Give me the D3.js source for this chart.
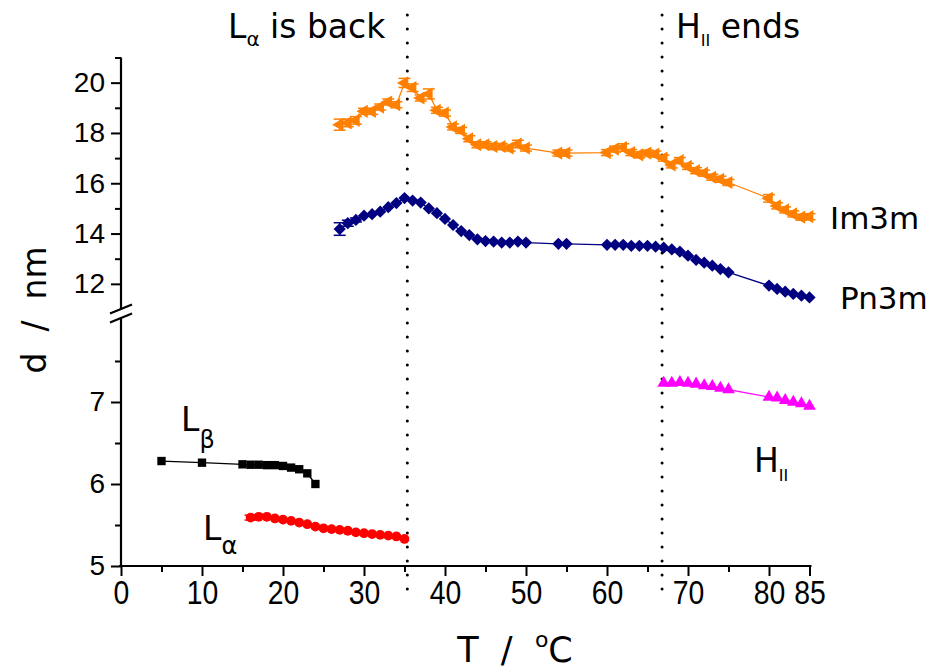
<!DOCTYPE html>
<html><head><meta charset="utf-8">
<script src="https://cdn.jsdelivr.net/npm/d3@7"></script>
<style>
html,body{margin:0;padding:0;background:#fff;}
svg{display:block;font-family:"DejaVu Sans",sans-serif;}
</style></head>
<body><svg id="c" width="935" height="671"></svg>
<script>
// ---- data ----
const tLb = [5,10,15,16,17,18,19,20,21,22,23,24];
const dLb = [6.28,6.26,6.24,6.235,6.235,6.23,6.23,6.22,6.20,6.18,6.13,6.00];

const tLa = [16,17,18,19,20,21,22,23,24,25,26,27,28,29,30,31,32,33,34,35];
const dLa = [5.59,5.60,5.60,5.58,5.565,5.55,5.53,5.51,5.48,5.46,5.45,5.44,5.43,5.41,5.40,5.39,5.38,5.37,5.36,5.33];
const eLa = [0.03,0.02,0,0,0,0,0,0,0,0,0,0,0,0,0,0,0,0,0,0];

const tPn = [27,28,29,30,31,32,33,34,35,36,37,38,39,40,41,42,43,44,45,46,47,48,49,50,54,55,
             60,61,62,63,64,65,66,67,68,69,70,71,72,73,74,75,80,81,82,83,84,85];
const dPn = [14.18,14.41,14.54,14.71,14.77,14.87,15.05,15.21,15.41,15.31,15.23,15.00,14.81,14.58,14.34,14.10,13.94,13.77,13.70,13.68,13.64,13.64,13.68,13.64,13.59,13.59,
             13.55,13.55,13.55,13.51,13.51,13.51,13.48,13.44,13.37,13.28,13.12,12.95,12.84,12.72,12.59,12.46,11.93,11.80,11.69,11.60,11.53,11.46];
const ePn = [0.25,0.12,0.08,0,0,0,0,0,0,0,0,0,0,0,0,0,0,0,0,0,0,0,0,0,0,0,
             0,0,0,0,0,0,0,0,0,0,0,0,0,0,0,0,0,0,0,0,0,0];

const tIm = [27,28,29,30,31,32,33,34,35,36,37,38,39,40,41,42,43,44,45,46,47,48,49,50,54,55,
             60,61,62,63,64,65,66,67,68,69,70,71,72,73,74,75,80,81,82,83,84,85];
const dIm = [18.33,18.40,18.50,18.86,18.86,19.03,19.23,19.12,19.99,19.80,19.39,19.55,18.90,18.79,18.24,18.10,17.77,17.53,17.53,17.46,17.46,17.40,17.56,17.40,17.20,17.20,
             17.22,17.36,17.42,17.22,17.13,17.20,17.16,17.00,16.73,16.90,16.67,16.50,16.40,16.24,16.16,16.03,15.40,15.10,14.94,14.78,14.65,14.67];
const eIm = [0.22,0.15,0.15,0.12,0.12,0.12,0.12,0.12,0.18,0.15,0.12,0.2,0.12,0.12,0.12,0.12,0.12,0.12,0.12,0.12,0.12,0.12,0.15,0.12,0.12,0.12,
             0.12,0.12,0.15,0.12,0.12,0.12,0.12,0.12,0.12,0.12,0.12,0.12,0.12,0.12,0.12,0.12,0.15,0.12,0.12,0.12,0.12,0.12];

const tH = [67,68,69,70,71,72,73,74,75,80,81,82,83,84,85];
const dH = [7.23,7.23,7.24,7.23,7.22,7.20,7.19,7.17,7.15,7.06,7.05,7.02,7.00,6.98,6.95];

const xMajor = [0,10,20,30,40,50,60,70,80,85];
const xMinor = [5,15,25,35,45,55,65,75];
const yUpMajor = [12,14,16,18,20];
const yUpMinor = [13,15,17,19,21];
const yLoMajor = [5,6,7];
const yLoMinor = [5.5,6.5,7.5];
const vLines = [35.35, 66.8];

// ---- scales ----
const svg = d3.select("#c");
const x = d3.scaleLinear().domain([0,85]).range([121,809.5]);
const yUp = d3.scaleLinear().domain([11,21]).range([309,57.5]);
const yLo = d3.scaleLinear().domain([5,8]).range([566,320]);

// ---- axes ----
function styleAxis(fs){
  return g=>{
    g.select(".domain").remove();
    g.selectAll("line").attr("stroke","#000").attr("stroke-width",2);
    g.selectAll("text").attr("font-size",fs).attr("fill","#000");
  };
}
// x axis
const gx = svg.append("g").attr("transform","translate(0,566)")
  .call(d3.axisBottom(x).tickValues(xMajor).tickSize(10).tickPadding(5).tickFormat(d3.format("d")))
  .call(styleAxis(33));
gx.selectAll("text").attr("transform","scale(0.86,1)");
svg.append("g").attr("transform","translate(0,566)")
  .call(d3.axisBottom(x).tickValues(xMinor).tickSize(6).tickFormat(""))
  .call(styleAxis(27));
svg.append("line").attr("x1",x(0)-2).attr("x2",x(85)+2).attr("y1",566).attr("y2",566)
  .attr("stroke","#000").attr("stroke-width",2.2);

// y upper
svg.append("g").attr("transform","translate(121,0)")
  .call(d3.axisLeft(yUp).tickValues(yUpMajor).tickSize(10).tickPadding(6).tickFormat(d3.format("d")))
  .call(styleAxis(28));
svg.append("g").attr("transform","translate(121,0)")
  .call(d3.axisLeft(yUp).tickValues(yUpMinor).tickSize(6).tickFormat(""))
  .call(styleAxis(28));
// y lower
svg.append("g").attr("transform","translate(121,0)")
  .call(d3.axisLeft(yLo).tickValues(yLoMajor).tickSize(10).tickPadding(6).tickFormat(d3.format("d")))
  .call(styleAxis(28));
svg.append("g").attr("transform","translate(121,0)")
  .call(d3.axisLeft(yLo).tickValues(yLoMinor).tickSize(6).tickFormat(""))
  .call(styleAxis(28));
// y axis lines
svg.append("line").attr("x1",121).attr("x2",121).attr("y1",yUp(21)).attr("y2",yUp(11)+1)
  .attr("stroke","#000").attr("stroke-width",2.2);
svg.append("line").attr("x1",121).attr("x2",121).attr("y1",yLo(8)-2).attr("y2",567)
  .attr("stroke","#000").attr("stroke-width",2.2);
// break marks
[0,9].forEach(o=>{
  svg.append("line").attr("x1",110).attr("y1",313.5+o).attr("x2",132).attr("y2",304.5+o)
    .attr("stroke","#000").attr("stroke-width",2.2);
});

// ---- dotted vertical lines ----
vLines.forEach(v=>{
  svg.append("line").attr("x1",x(v)).attr("x2",x(v)).attr("y1",15).attr("y2",596)
    .attr("stroke","#000").attr("stroke-width",3).attr("stroke-linecap","round")
    .attr("stroke-dasharray","0.1,13.9");
});

// ---- series ----
function series(ts, ds, ys, color, shape, size, errs){
  const pts = ts.map((t,i)=>({t, d:ds[i], e: errs? errs[i]:0}));
  svg.append("path").datum(pts)
    .attr("d", d3.line().x(p=>x(p.t)).y(p=>ys(p.d)))
    .attr("fill","none").attr("stroke",color).attr("stroke-width",1.3);
  const g = svg.append("g");
  pts.forEach(p=>{
    if(p.e>0){
      const cx=x(p.t), y1=ys(p.d+p.e), y2=ys(p.d-p.e);
      g.append("line").attr("x1",cx).attr("x2",cx).attr("y1",y1).attr("y2",y2).attr("stroke",color).attr("stroke-width",1.5);
      g.append("line").attr("x1",cx-6).attr("x2",cx+6).attr("y1",y1).attr("y2",y1).attr("stroke",color).attr("stroke-width",1.5);
      g.append("line").attr("x1",cx-6).attr("x2",cx+6).attr("y1",y2).attr("y2",y2).attr("stroke",color).attr("stroke-width",1.5);
    }
  });
  g.selectAll("path.m").data(pts).join("path")
    .attr("d", d3.symbol().type(shape.type).size(size))
    .attr("transform", p=>`translate(${x(p.t)},${ys(p.d)}) rotate(${shape.rot||0})`)
    .attr("fill",color);
}
series(tLb,dLb,yLo,"#000",{type:d3.symbolSquare},70,null);
series(tLa,dLa,yLo,"#ff0000",{type:d3.symbolCircle},75,eLa);
series(tH,dH,yLo,"#ff00ff",{type:d3.symbolTriangle},70,null);
series(tPn,dPn,yUp,"#000080",{type:d3.symbolSquare,rot:45},75,ePn);
series(tIm,dIm,yUp,"#ff8000",{type:d3.symbolTriangle,rot:-90},75,eIm);

// ---- labels ----
function label(xp, yp, main, sub, rest, fs, subfs, dy){
  const t = svg.append("text").attr("x",xp).attr("y",yp).attr("font-size",fs).attr("fill","#000");
  t.append("tspan").text(main);
  if(sub){ t.append("tspan").attr("font-size",subfs).attr("dy",dy).text(sub); }
  if(rest){ t.append("tspan").attr("dy",-dy).text(rest); }
  return t;
}
label(228,38,"L","α"," is back",33,20,8);
label(676,38,"H","II"," ends",33,16,8);
label(181,431,"L","β",null,33,24,17);
label(203,540,"L","α",null,33,24,14);
label(754,472,"H","II",null,33,16,9);
svg.append("text").attr("x",830).attr("y",229).attr("font-size",31).text("Im3m");
svg.append("text").attr("x",840).attr("y",309).attr("font-size",31).text("Pn3m");

// axis titles
svg.append("text").attr("transform","translate(46,310) rotate(-90)").attr("text-anchor","middle")
  .attr("font-size",33).attr("xml:space","preserve").text("d  /  nm");
const xt = svg.append("text").attr("x",515).attr("y",662).attr("text-anchor","middle").attr("font-size",35)
  .attr("xml:space","preserve");
xt.append("tspan").text("T  /  ");
xt.append("tspan").attr("font-size",22).attr("dy",-15).text("o");
xt.append("tspan").attr("dy",15).text("C");
</script></body></html>
